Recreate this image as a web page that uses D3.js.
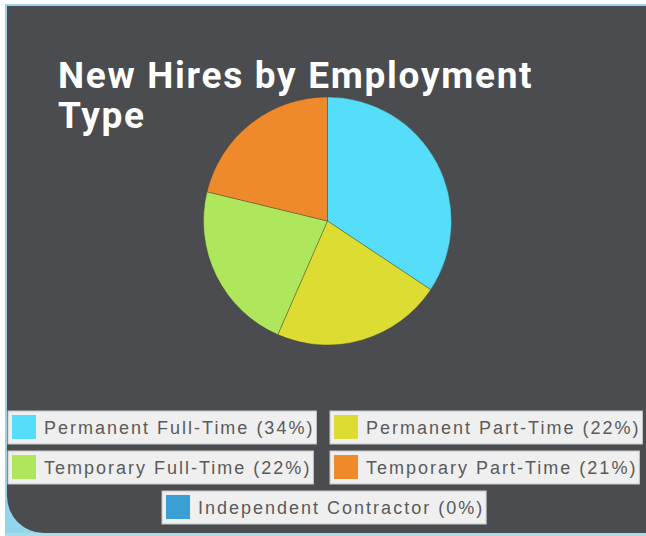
<!DOCTYPE html>
<html>
<head>
<meta charset="utf-8">
<script src="https://cdn.jsdelivr.net/npm/d3@7"></script>
<style>
  html, body { margin: 0; padding: 0; background: #fff; }
  svg { display: block; }
</style>
</head>
<body>
<div id="chart"></div>
<script>
const width = 646;
const height = 536;

// chart data
const categories = ["Permanent Full-Time", "Permanent Part-Time", "Temporary Full-Time", "Temporary Part-Time", "Independent Contractor"];
const shares = [34, 22, 22, 21, 0];
const colors = ["#55ddf9", "#dcdc32", "#aee65c", "#ef8a2c", "#3a9fd2"];
const titleLines = ["New Hires by Employment", "Type"];

const svg = d3.select("#chart")
    .append("svg")
    .attr("width", width)
    .attr("height", height);

// frame + dark panel with the rounded bottom-left corner
svg.append("rect").attr("x", 0).attr("y", 0).attr("width", width).attr("height", height).attr("fill", "#ffffff");
svg.append("rect").attr("x", 5).attr("y", 4).attr("width", width - 5).attr("height", 2).attr("fill", "#9ad4e4");
svg.append("rect").attr("x", 5).attr("y", 4).attr("width", 2).attr("height", height - 4).attr("fill", "#9ad4e4");
svg.append("rect").attr("x", 5).attr("y", 470).attr("width", 80).attr("height", 66).attr("fill", "#93d5ec");
svg.append("rect").attr("x", 5).attr("y", 533).attr("width", width - 5).attr("height", 3).attr("fill", "#a9dbe8");

svg.append("path")
    .attr("d", "M7,6 H646 V533 H44 A37,37 0 0 1 7,496 Z")
    .attr("fill", "#4a4c50");

// title, one text with a tspan per line
svg.append("text")
    .attr("fill", "#ffffff")
    .style("font-family", "Roboto, 'DejaVu Sans', sans-serif")
    .style("font-weight", 700)
    .style("font-size", "37px")
    .style("letter-spacing", "1.7px")
    .selectAll("tspan")
    .data(titleLines)
    .join("tspan")
    .attr("x", 58)
    .attr("y", (d, i) => 88 + i * 40)
    .text(d => d);

// pie
const cx = 327.5, cy = 221, radius = 124;
const pie = d3.pie().sort(null).value(d => d.value);
const arc = d3.arc().innerRadius(0).outerRadius(radius);
const pieData = categories.map((c, i) => ({ name: c, value: shares[i], color: colors[i] }));

svg.append("g")
    .attr("transform", `translate(${cx},${cy})`)
    .selectAll("path")
    .data(pie(pieData).filter(d => d.data.value > 0))
    .join("path")
    .attr("d", arc)
    .attr("fill", d => d.data.color)
    .attr("stroke", "rgba(60,60,40,0.35)")
    .attr("stroke-width", 1);

// legend
const rows = [
    { y: 411, items: [0, 1], x0: [8, 330] },
    { y: 451, items: [2, 3], x0: [8, 330] },
    { y: 491, items: [4], x0: [162] }
];
const boxH = 33;

const legend = svg.append("g");
rows.forEach(row => {
    row.items.forEach((idx, j) => {
        const g = legend.append("g").attr("transform", `translate(${row.x0[j]},${row.y})`);
        const bg = g.append("rect")
            .attr("y", 0)
            .attr("height", boxH)
            .attr("fill", "#efefef")
            .attr("stroke", "#c8c8c8")
            .attr("stroke-width", 1);
        g.append("rect")
            .attr("x", 4).attr("y", 4)
            .attr("width", 24).attr("height", 24)
            .attr("fill", colors[idx]);
        const t = g.append("text")
            .attr("x", 36)
            .attr("y", 23)
            .attr("fill", "#5a5a5a")
            .style("font-family", "'Liberation Sans', Arial, sans-serif")
            .style("font-size", "18px")
            .style("letter-spacing", "2px")
            .text(`${categories[idx]} (${shares[idx]}%)`);
        const tw = t.node().getComputedTextLength();
        bg.attr("width", Math.min(36 + tw + 2, width - row.x0[j]));
    });
});
</script>
</body>
</html>
